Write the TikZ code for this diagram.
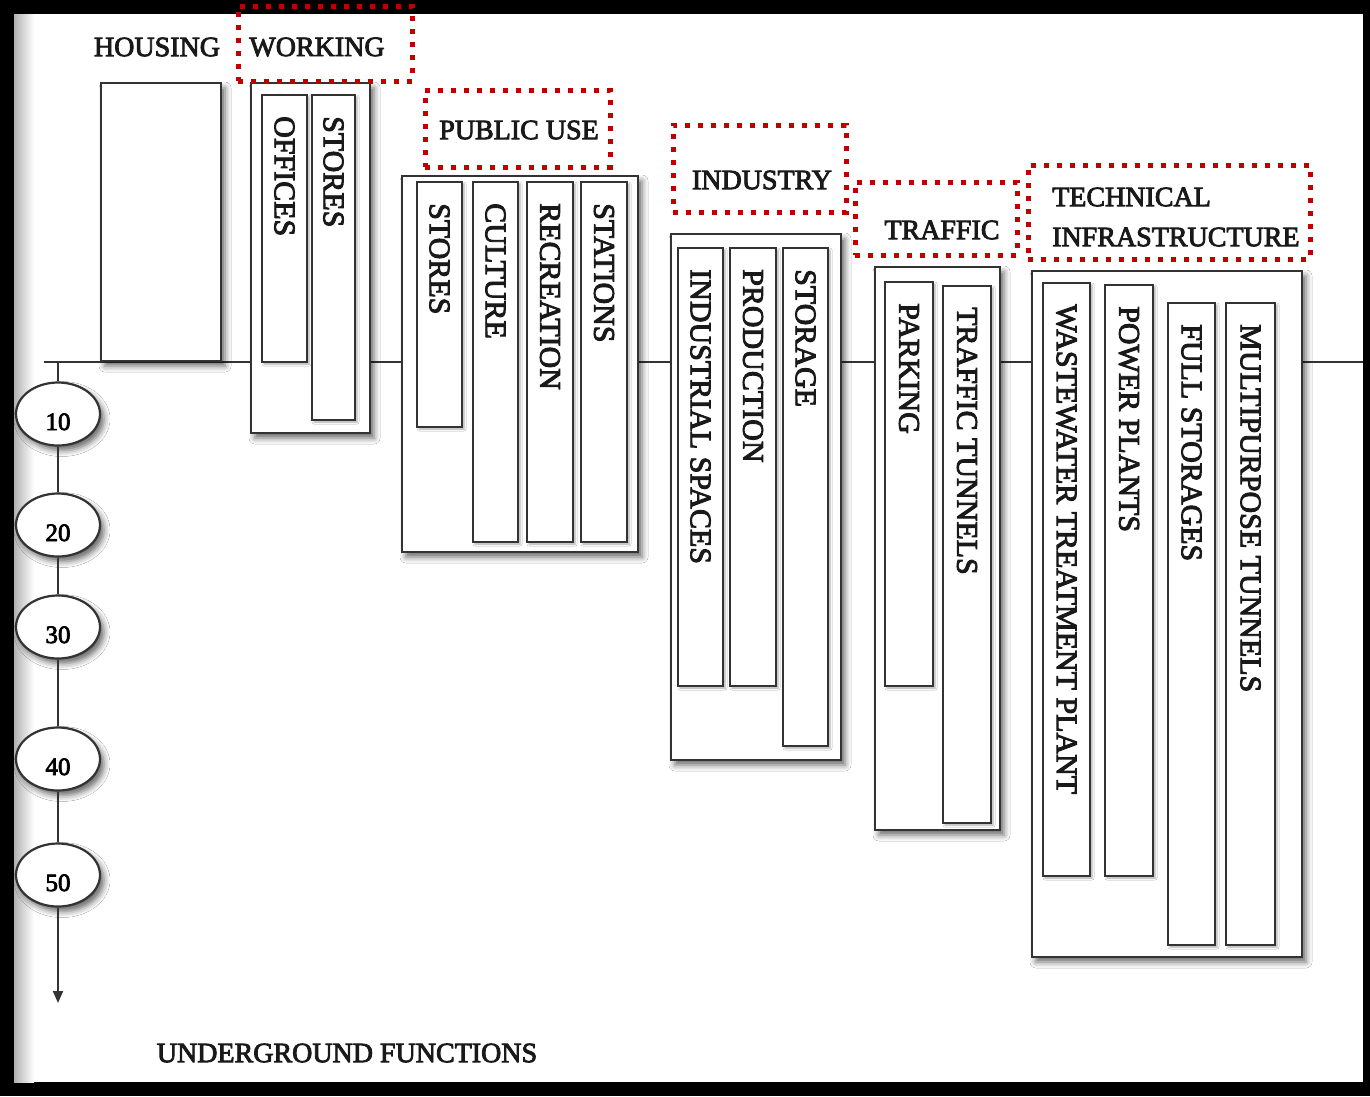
\documentclass[tikz,border=0pt]{standalone}
\usepackage{fontspec}
\setmainfont{Liberation Serif}
\newfontfamily\dfont{Liberation Serif}[FakeBold=3]
\usetikzlibrary{shapes.geometric,arrows.meta,shadows.blur}
\definecolor{lc}{HTML}{333333}
\definecolor{dred}{HTML}{C00000}
\newcommand{\UFrect}[6]{\node[#6, minimum width={(#4)-(#2)}, minimum height={(#5)-(#3)}] (#1) at ({((#2)+(#4))/2},{((#3)+(#5))/2}) {};}
\newcommand{\UFlabel}[4]{\node[lbl] (#1) at ({#2},{#3}) {#4};}
\newcommand{\UFnum}[1]{\raisebox{-16pt}[0pt][0pt]{#1}}
\tikzset{
  shad/.style={blur shadow={shadow xshift=4pt, shadow yshift=-5pt, shadow blur radius=6pt, shadow opacity=60}},
  bigbox/.style={rectangle, draw=lc, line width=2.6pt, fill=white, inner sep=0pt, shad},
  inbox/.style={rectangle, draw=lc, line width=2.2pt, fill=white, inner sep=0pt, blur shadow={shadow xshift=2pt, shadow yshift=-2pt, shadow blur radius=2pt, shadow opacity=35}},
  redbox/.style={rectangle, draw=dred, line width=5pt, dash pattern=on 5pt off 8pt, inner sep=0pt},
  head/.style={font=\dfont\fontsize{28}{30}\selectfont, inner sep=0pt, text=black!90},
  lbl/.style={font=\dfont\fontsize{30}{32}\selectfont, inner sep=0pt, rotate=-90, anchor=west, text=black!90},
  numel/.style={ellipse, draw=lc, line width=2.2pt, fill=white, minimum width=84pt, minimum height=63pt, inner sep=0pt, font=\dfont\fontsize{25}{27}\selectfont, shad},
  conn/.style={draw=lc, line width=2pt}
}
\begin{document}
\begin{tikzpicture}[x=1pt,y=-1pt]
\useasboundingbox (0,0) rectangle (1370,1096);
% frame
\fill[black] (0,0) rectangle (1370,1096);
\fill[white] (14,14) rectangle (1363,1082);
\shade[left color=black!30, right color=white] (14,14) rectangle (34,1082);
% ground line
\coordinate (gl) at (44,362);
\coordinate (gr) at (1363,362);
\draw[conn] (gl) -- (gr);
% depth scale
\coordinate (vtop) at (58,362);
\coordinate (vend) at (58,1003);
\node[numel] (e10) at (58,414) {\UFnum{10}};
\node[numel] (e20) at (58,525) {\UFnum{20}};
\node[numel] (e30) at (58,627) {\UFnum{30}};
\node[numel] (e40) at (58,759) {\UFnum{40}};
\node[numel] (e50) at (58,875) {\UFnum{50}};
\draw[conn] (vtop) -- (e10);
\draw[conn] (e10) -- (e20);
\draw[conn] (e20) -- (e30);
\draw[conn] (e30) -- (e40);
\draw[conn] (e40) -- (e50);
\draw[conn, -{Triangle[length=12pt,width=10pt]}] (e50) -- (vend);
% housing
\UFrect{housing}{101}{83}{221}{361}{bigbox}
\node[head] (thousing) at (157,47) {HOUSING};
% working
\UFrect{working}{251}{83}{370}{433}{bigbox}
\UFrect{offices}{262}{95}{307}{362}{inbox}
\UFrect{wstores}{312}{95}{355}{420}{inbox}
\UFlabel{toffices}{284.5}{116}{OFFICES}
\UFlabel{twstores}{333.5}{116}{STORES}
\UFrect{rworking}{238}{6}{412}{81}{redbox}
\node[head] (tworking) at (317,47) {WORKING};
% public use
\UFrect{public}{402}{176}{638}{552}{bigbox}
\UFrect{pstores}{417}{182}{462}{427}{inbox}
\UFrect{culture}{473}{182}{518}{542}{inbox}
\UFrect{recreation}{527}{182}{573}{542}{inbox}
\UFrect{stations}{581}{182}{627}{542}{inbox}
\UFlabel{tpstores}{439.5}{203}{STORES}
\UFlabel{tculture}{495.5}{203}{CULTURE}
\UFlabel{trecreation}{550}{203}{RECREATION}
\UFlabel{tstations}{604}{203}{STATIONS}
\UFrect{rpublic}{425}{90}{610}{167}{redbox}
\node[head] (tpublic) at (519,130) {PUBLIC USE};
% industry
\UFrect{industry}{671}{234}{841}{760}{bigbox}
\UFrect{indspaces}{678}{248}{723}{686}{inbox}
\UFrect{production}{730}{248}{776}{686}{inbox}
\UFrect{storage}{783}{248}{828}{746}{inbox}
\UFlabel{tindspaces}{700.5}{269}{INDUSTRIAL SPACES}
\UFlabel{tproduction}{753}{269}{PRODUCTION}
\UFlabel{tstorage}{805.5}{269}{STORAGE}
\UFrect{rindustry}{673}{125}{846}{212}{redbox}
\node[head] (tindustry) at (762,180) {INDUSTRY};
% traffic
\UFrect{traffic}{875}{267}{1000}{830}{bigbox}
\UFrect{parking}{885}{282}{933}{686}{inbox}
\UFrect{tunnels}{943}{286}{991}{823}{inbox}
\UFlabel{tparking}{909}{303}{PARKING}
\UFlabel{ttunnels}{967}{307}{TRAFFIC TUNNELS}
\UFrect{rtraffic}{855}{182}{1017}{255}{redbox}
\node[head] (ttraffic) at (942,230) {TRAFFIC};
% technical infrastructure
\UFrect{tech}{1032}{271}{1302}{957}{bigbox}
\UFrect{waste}{1043}{283}{1090}{876}{inbox}
\UFrect{power}{1105}{285}{1153}{876}{inbox}
\UFrect{full}{1168}{303}{1215}{945}{inbox}
\UFrect{multi}{1226}{303}{1275}{945}{inbox}
\UFlabel{twaste}{1066.5}{304}{WASTEWATER TREATMENT PLANT}
\UFlabel{tpower}{1129}{306}{POWER PLANTS}
\UFlabel{tfull}{1191.5}{324}{FULL STORAGES}
\UFlabel{tmulti}{1250.5}{324}{MULTIPURPOSE TUNNELS}
\UFrect{rtech}{1028}{165}{1310}{259}{redbox}
\node[head, anchor=west] (ttech1) at (1052,197) {TECHNICAL};
\node[head, anchor=west] (ttech2) at (1052,237) {INFRASTRUCTURE};
% caption
\node[head] (caption) at (347,1053) {UNDERGROUND FUNCTIONS};
\end{tikzpicture}
\end{document}
